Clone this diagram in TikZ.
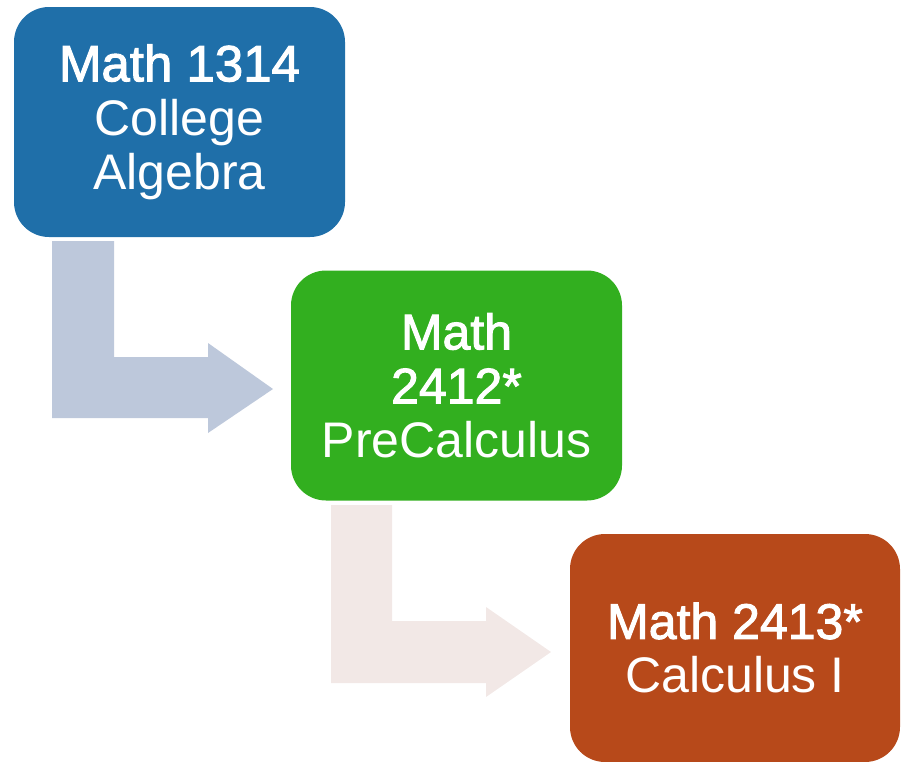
\documentclass[tikz,border=0pt]{standalone}
\usepackage{fontspec}
\setmainfont{Liberation Sans}
\newfontfamily\headfont[FakeBold=2]{Liberation Sans}
\definecolor{algblue}{HTML}{1F6FA9}
\definecolor{pregreen}{HTML}{32AF1F}
\definecolor{calcorange}{HTML}{B7491A}
\definecolor{arrowblue}{HTML}{BDC8DB}
\definecolor{arrowpink}{HTML}{F2E8E6}
\tikzset{
  course/.style={rounded corners=35pt, minimum width=331pt, minimum height=230pt,
    text=white, align=center, inner sep=0pt,
    font=\fontsize{50}{54}\selectfont},
}
\begin{document}
\begin{tikzpicture}[x=1pt,y=-1pt]
  \useasboundingbox (0,0) rectangle (903,761);
  % Bent arrows
  \fill[arrowblue] (52,241) -- (114,241) -- (114,357) -- (208,357) -- (208,343)
    -- (273,389) -- (208,433) -- (208,418) -- (52,418) -- cycle;
  \fill[arrowpink] (331,505) -- (392,505) -- (392,621) -- (486,621) -- (486,607)
    -- (551,652) -- (486,697) -- (486,683) -- (331,683) -- cycle;
  % Course boxes
  \node[course, fill=algblue] (alg) at (179.5,122)
    {{\headfont\fontsize{51}{54}\selectfont Math 1314}\\College\\Algebra};
  \node[course, fill=pregreen] (pre) at (456.5,385.5)
    {{\headfont Math}\\{\headfont 2412*}\\PreCalculus};
  \node[course, fill=calcorange, minimum width=330pt, minimum height=228pt] (calc) at (735,648)
    {{\headfont Math 2413*}\\Calculus I};
\end{tikzpicture}
\end{document}
